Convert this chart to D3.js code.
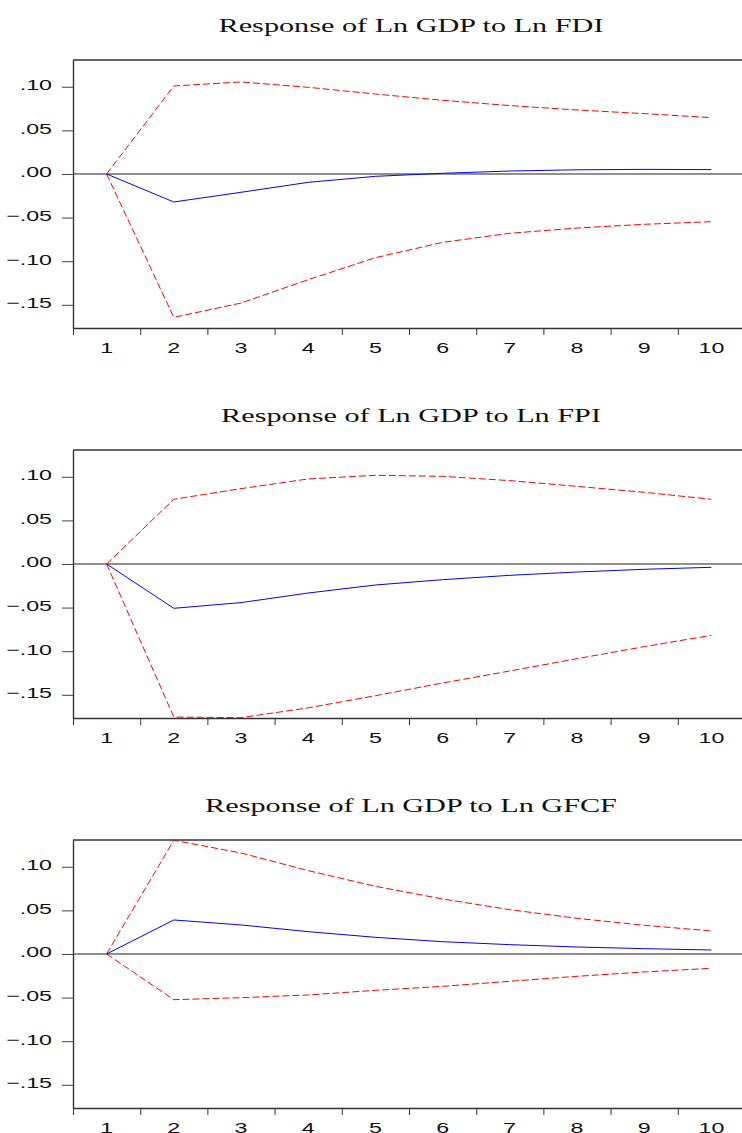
<!DOCTYPE html>
<html>
<head>
<meta charset="utf-8">
<script src="https://cdn.jsdelivr.net/npm/d3@7"></script>
<style>
  html, body { margin: 0; padding: 0; background: #fff; }
  svg { display: block; }
</style>
</head>
<body>
<svg id="chart" width="742" height="1133"></svg>
<script>
// ---- data ----
const periods = [1, 2, 3, 4, 5, 6, 7, 8, 9, 10];
const yTickValues = [-0.15, -0.10, -0.05, 0.00, 0.05, 0.10];
const titles = [
  "Response of Ln GDP to Ln FDI",
  "Response of Ln GDP to Ln FPI",
  "Response of Ln GDP to Ln GFCF"
];

const fdiResponse = [0, -0.0321, -0.0210, -0.0096, -0.0027, 0.0008, 0.0034, 0.0048, 0.0053, 0.0050];
const fdiUpper    = [0, 0.1009, 0.1055, 0.0994, 0.0917, 0.0845, 0.0784, 0.0734, 0.0692, 0.0646];
const fdiLower    = [0, -0.1644, -0.1480, -0.1212, -0.0960, -0.0784, -0.0680, -0.0620, -0.0577, -0.0547];

const fpiResponse = [0, -0.0508, -0.0443, -0.0333, -0.0241, -0.0180, -0.0130, -0.0092, -0.0061, -0.0038];
const fpiUpper    = [0, 0.0742, 0.0864, 0.0975, 0.1017, 0.1005, 0.0956, 0.0890, 0.0822, 0.0742];
const fpiLower    = [0, -0.1755, -0.1762, -0.1650, -0.1510, -0.1365, -0.1227, -0.1086, -0.0948, -0.0818];

const gfcfResponse = [0, 0.0390, 0.0333, 0.0256, 0.0191, 0.0141, 0.0107, 0.0080, 0.0061, 0.0046];
const gfcfUpper    = [0, 0.1304, 0.1158, 0.0956, 0.0776, 0.0631, 0.0508, 0.0409, 0.0329, 0.0264];
const gfcfLower    = [0, -0.0524, -0.0501, -0.0470, -0.0417, -0.0371, -0.0313, -0.0256, -0.0206, -0.0164];

const yDomain = [-0.1766, 0.1307];

const panels = [
  { title: titles[0], response: fdiResponse, upper: fdiUpper, lower: fdiLower },
  { title: titles[1], response: fpiResponse, upper: fpiUpper, lower: fpiLower },
  { title: titles[2], response: gfcfResponse, upper: gfcfUpper, lower: gfcfLower }
];

// ---- layout ----
const svg = d3.select("#chart");
const left = 73, right = 745;
const panelTop0 = 60, panelStep = 390, panelH = 268;
const sx = 1.55; // horizontal text stretch

const x = d3.scaleBand().domain(periods).range([left, right]).paddingInner(0).paddingOuter(0);
const xTickScale = d3.scaleLinear().domain([0, periods.length]).range([left, right]);
const cx = d => x(d) + x.bandwidth() / 2;
const fmt = d => d3.format(".2f")(d).replace("0.", ".");

panels.forEach((p, i) => {
  const top = panelTop0 + i * panelStep;
  const bottom = top + panelH;
  const y = d3.scaleLinear().domain(yDomain).range([bottom, top]);
  const g = svg.append("g");

  // title
  g.append("text")
    .attr("transform", `translate(411,${top - 28}) scale(${sx},1)`)
    .attr("text-anchor", "middle")
    .style("font-family", "'Liberation Serif', 'Times New Roman', serif")
    .style("font-size", "19.5px")
    .attr("fill", "#111")
    .text(p.title);

  // zero line
  g.append("line")
    .attr("x1", left).attr("x2", right)
    .attr("y1", y(0)).attr("y2", y(0))
    .attr("stroke", "#222").attr("stroke-width", 1);

  // top border
  g.append("line")
    .attr("x1", left).attr("x2", right)
    .attr("y1", top).attr("y2", top)
    .attr("stroke", "#333").attr("stroke-width", 1.4);

  // left axis
  const yAxis = g.append("g")
    .attr("transform", `translate(${left},0)`)
    .call(d3.axisLeft(y).tickValues(yTickValues).tickSize(11).tickSizeOuter(0).tickFormat(fmt));
  yAxis.select(".domain").attr("stroke", "#333").attr("stroke-width", 1.4);
  yAxis.selectAll(".tick line").attr("stroke", "#444").attr("stroke-width", 1);
  yAxis.selectAll(".tick text")
    .attr("x", null).attr("dy", null)
    .attr("transform", `translate(-21,3) scale(${sx},1)`)
    .attr("text-anchor", "end")
    .attr("fill", "#111")
    .style("font-family", "'Liberation Sans', Arial, sans-serif")
    .style("font-size", "15px");

  // bottom axis: tick marks at band edges
  const xTicks = g.append("g")
    .attr("transform", `translate(0,${bottom})`)
    .call(d3.axisBottom(xTickScale).tickValues(d3.range(0, periods.length + 1)).tickSize(7).tickSizeOuter(0).tickFormat(""));
  xTicks.select(".domain").attr("stroke", "#333").attr("stroke-width", 1.4);
  xTicks.selectAll(".tick line").attr("stroke", "#333").attr("stroke-width", 1);

  // bottom axis labels at band centers
  const xLabels = g.append("g")
    .attr("transform", `translate(0,${bottom})`)
    .call(d3.axisBottom(x).tickSize(0).tickSizeOuter(0));
  xLabels.select(".domain").remove();
  xLabels.selectAll(".tick text")
    .attr("y", null).attr("dy", null)
    .attr("transform", `translate(0,25) scale(${sx},1)`)
    .attr("fill", "#111")
    .style("font-family", "'Liberation Sans', Arial, sans-serif")
    .style("font-size", "15px");

  const line = d3.line().x((d, k) => cx(periods[k])).y(d => y(d));

  g.append("path").datum(p.upper)
    .attr("d", line).attr("fill", "none")
    .attr("stroke", "#ff0000").attr("stroke-width", 1)
    .attr("stroke-dasharray", "7,3");
  g.append("path").datum(p.lower)
    .attr("d", line).attr("fill", "none")
    .attr("stroke", "#ff0000").attr("stroke-width", 1)
    .attr("stroke-dasharray", "7,3");
  g.append("path").datum(p.response)
    .attr("d", line).attr("fill", "none")
    .attr("stroke", "#0000ff").attr("stroke-width", 1);
});
</script>
</body>
</html>
